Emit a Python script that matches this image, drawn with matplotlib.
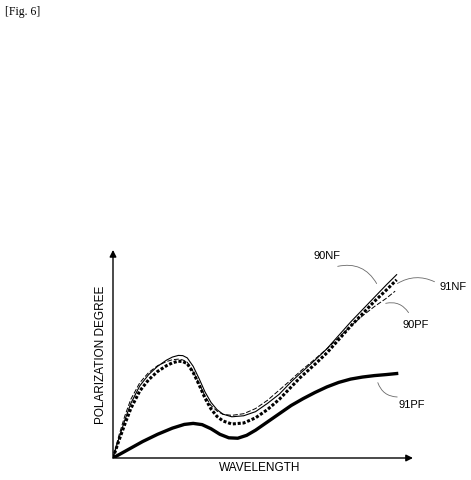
import matplotlib
matplotlib.use("Agg")
import matplotlib.pyplot as plt

plt.rcParams["font.family"] = ["Liberation Sans Narrow", "Liberation Sans", "DejaVu Sans"]

# wavelength (0..100) vs polarization degree (0..100)
x_90nf = [0, 2, 4, 6, 9, 12, 15, 18, 20, 22, 23.5, 25, 27, 29, 31, 33, 35, 37, 40, 44, 48, 52, 56, 60, 63, 68, 72, 76, 80, 84, 88, 92, 95.5]
y_90nf = [0, 9.5, 18.5, 26.5, 35, 40.5, 44.5, 47.5, 49, 49.8, 49.7, 48.6, 44.5, 38.5, 32, 27, 23.5, 21.3, 20, 20.5, 22.5, 26.5, 31, 37, 41, 47.5, 53, 59.5, 66, 72, 78, 84, 89]
x_91nf = x_90nf
y_91nf = [0, 8.5, 16.5, 24, 32.5, 38, 42, 44.8, 46.2, 47, 46.8, 45.8, 41.5, 35.5, 29, 23.8, 20.2, 18, 16.5, 17, 19.5, 23.5, 28.5, 34.5, 39, 45.5, 51, 57.5, 64, 70, 76, 81.5, 86.5]
x_90pf = [0, 2, 4, 6, 9, 12, 15, 18, 20, 22, 23.5, 25, 27, 29, 31, 33, 35, 37, 40, 44, 48, 52, 56, 60, 63, 68, 72, 76, 80, 84, 88, 92, 95]
y_90pf = [0, 11, 20.5, 28.5, 36.5, 41.5, 44.8, 46.8, 47.7, 48, 47.6, 46.5, 42, 36, 30, 25.5, 22.8, 21.2, 20.7, 21.5, 24, 28, 33, 38, 42, 48, 53, 58.5, 64, 69, 73.5, 77.5, 81]
x_91pf = [0, 5, 10, 15, 20, 24, 27, 30, 33, 36, 39, 42, 45, 48, 52, 56, 60, 64, 68, 72, 76, 80, 84, 88, 92, 95.5]
y_91pf = [0, 4, 8, 11.5, 14.5, 16.3, 16.8, 16.2, 14.2, 11.5, 9.8, 9.6, 11, 13.5, 17.5, 21.5, 25.5, 28.8, 31.8, 34.5, 36.7, 38.3, 39.3, 40, 40.5, 41]

fig = plt.figure(figsize=(4.71, 4.80), dpi=100)
W, H = 471, 480
# axes: origin at (113, 458) px, extends to (410, 252) px
ax = fig.add_axes([113 / W, 1 - 458 / H, (410 - 113) / W, (458 - 252) / H])
ax.set_xlim(0, 100)
ax.set_ylim(0, 100)
ax.axis("off")

ax.plot(x_90nf, y_90nf, color="black", lw=0.8)
ax.plot(x_91nf, y_91nf, color="black", lw=2.2, ls=(0, (1.0, 0.6)))
ax.plot(x_90pf, y_90pf, color="black", lw=0.7, ls=(0, (5, 2)))
ax.plot(x_91pf, y_91pf, color="black", lw=2.4)

# axis arrows
for tip in [(101, 0), (0, 101)]:
    ax.annotate("", xy=tip, xytext=(0, 0), annotation_clip=False,
                arrowprops=dict(arrowstyle="-|>", color="black", lw=1.0,
                                mutation_scale=10, shrinkA=0, shrinkB=0))

fig.text(260 / W, 1 - 468 / H, "WAVELENGTH", ha="center", va="center", fontsize=8.5)
fig.text(101 / W, 1 - 355 / H, "POLARIZATION DEGREE", ha="center", va="center",
         fontsize=8.5, rotation=90)
fig.text(5 / W, 1 - 12 / H, "[Fig. 6]", ha="left", va="center", fontsize=8.5,
         family=["Liberation Serif", "DejaVu Serif"])

# leader labels
def px(xp, yp):
    return ((xp - 113) / 2.97, (458 - yp) / 2.06)

leaders = [
    ("90NF", (327, 256), (335, 267), (378, 286), -0.4),
    ("91NF", (453, 287), (437, 283), (395, 285), 0.3),
    ("90PF", (416, 325), (410, 315), (383, 304), 0.4),
    ("91PF", (412, 405), (400, 397), (377, 380), -0.4),
]
for label, tpos, start, end, rad in leaders:
    ax.text(*px(*tpos), label, ha="center", va="center", fontsize=8, clip_on=False)
    ax.annotate("", xy=px(*end), xytext=px(*start), annotation_clip=False,
                arrowprops=dict(arrowstyle="-", color="dimgray", lw=0.6,
                                connectionstyle=f"arc3,rad={rad}"))

fig.savefig("out.png", dpi=100)
